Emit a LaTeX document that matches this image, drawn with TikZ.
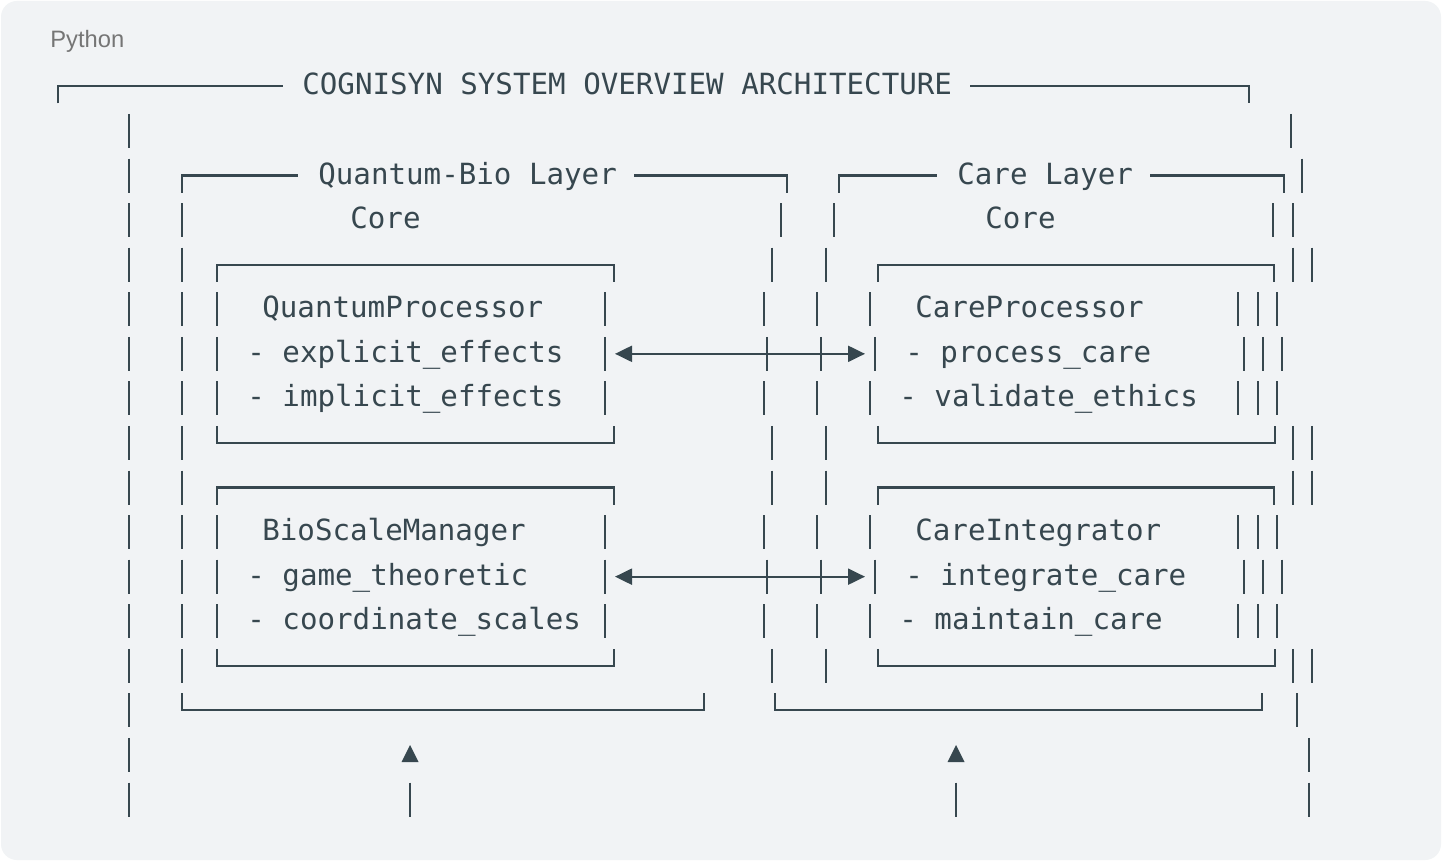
\documentclass[tikz,border=0pt]{standalone}
\usepackage{fontspec}
\setmainfont{Liberation Sans}
\setmonofont{DejaVu Sans Mono}
\usetikzlibrary{arrows.meta}

\definecolor{ink}{RGB}{55,71,79}
\definecolor{codebg}{RGB}{241,243,245}
\definecolor{tagcol}{RGB}{117,117,117}

\begin{document}
\begin{tikzpicture}[
    x=0.02cm, y=-0.02cm,
    declare function={ry(\r)=86.4+44.57*\r;},
    code/.style={anchor=base west, inner sep=0pt, text=ink, font=\ttfamily\fontsize{16.6}{20}\selectfont},
    tag/.style={anchor=base west, inner sep=0pt, text=tagcol, font=\fontsize{13.5}{16}\selectfont},
    rule/.style={draw=ink, line width=1.2pt},
    arrow/.style={rule, >={Triangle[length=0.34cm,width=0.32cm]}, <->},
]

% Frame
\path[use as bounding box, fill=white] (0,0) rectangle (1442,861);
\fill[codebg, rounded corners=0.32cm] (1,1) rectangle (1441,860);
\node[tag] (lang) at (50,48) {Python};

% Titles
\node[code] (title) at (302,{ry(0)+8.5}) {COGNISYN SYSTEM OVERVIEW ARCHITECTURE};
\node[code] (qblayer) at (318,{ry(2)+8.5}) {Quantum-Bio Layer};
\node[code] (carelayer) at (957,{ry(2)+8.5}) {Care Layer};
\node[code] (qbcore) at (350,{ry(3)+8.5}) {Core};
\node[code] (carecore) at (985,{ry(3)+8.5}) {Core};

% Quantum-Bio nodes
\node[code] (qproc) at (262,{ry(5)+8.5}) {QuantumProcessor};
\node[code] (qproc1) at (247,{ry(6)+8.5}) {- explicit\_effects};
\node[code] (qproc2) at (247,{ry(7)+8.5}) {- implicit\_effects};
\node[code] (bsm) at (262,{ry(10)+8.5}) {BioScaleManager};
\node[code] (bsm1) at (247,{ry(11)+8.5}) {- game\_theoretic};
\node[code] (bsm2) at (247,{ry(12)+8.5}) {- coordinate\_scales};

% Care nodes
\node[code] (cproc) at (915,{ry(5)+8.5}) {CareProcessor};
\node[code] (cproc1) at (905,{ry(6)+8.5}) {- process\_care};
\node[code] (cproc2) at (899,{ry(7)+8.5}) {- validate\_ethics};
\node[code] (cint) at (915,{ry(10)+8.5}) {CareIntegrator};
\node[code] (cint1) at (905,{ry(11)+8.5}) {- integrate\_care};
\node[code] (cint2) at (899,{ry(12)+8.5}) {- maintain\_care};

% Corners and rules
\draw[rule] (58,{ry(0)+17}) -- (58,{ry(0)}) -- (283,{ry(0)});
\draw[rule] (970,{ry(0)}) -- (1249,{ry(0)}) -- (1249,{ry(0)+17});
\draw[rule] (182,{ry(2)+17}) -- (182,{ry(2)}) -- (298,{ry(2)});
\draw[rule] (634,{ry(2)}) -- (787,{ry(2)}) -- (787,{ry(2)+17});
\draw[rule] (839,{ry(2)+17}) -- (839,{ry(2)}) -- (937,{ry(2)});
\draw[rule] (1150,{ry(2)}) -- (1284,{ry(2)}) -- (1284,{ry(2)+17});
\foreach \r in {4,9} {
  \draw[rule] (217,{ry(\r)+17}) -- (217,{ry(\r)}) -- (614,{ry(\r)}) -- (614,{ry(\r)+17});
  \draw[rule] (878,{ry(\r)+17}) -- (878,{ry(\r)}) -- (1274,{ry(\r)}) -- (1274,{ry(\r)+17});
}
\foreach \r in {8,13} {
  \draw[rule] (217,{ry(\r)-17}) -- (217,{ry(\r)}) -- (614,{ry(\r)}) -- (614,{ry(\r)-17});
  \draw[rule] (878,{ry(\r)-17}) -- (878,{ry(\r)}) -- (1275,{ry(\r)}) -- (1275,{ry(\r)-17});
}
\draw[rule] (182,{ry(14)-17}) -- (182,{ry(14)}) -- (704,{ry(14)}) -- (704,{ry(14)-17});
\draw[rule] (775,{ry(14)-17}) -- (775,{ry(14)}) -- (1262,{ry(14)}) -- (1262,{ry(14)-17});

% Vertical bars
\foreach \r in {1,...,16}
  \draw[rule] (129,{ry(\r)-17}) -- (129,{ry(\r)+17});
\foreach \r in {3,...,13}
  \draw[rule] (182,{ry(\r)-17}) -- (182,{ry(\r)+17});
\foreach \x/\r in {217/5,217/6,217/7,217/10,217/11,217/12,
                   605/5,605/6,605/7,605/10,605/11,605/12,
                   781/3,772/4,764/5,767/6,764/7,772/8,772/9,764/10,767/11,764/12,772/13,
                   834/3,826/4,817/5,821/6,817/7,826/8,826/9,817/10,821/11,817/12,826/13,
                   870/5,875/6,870/7,870/10,875/11,870/12,
                   1238/5,1258/5,1277/5,1244/6,1263/6,1282/6,1238/7,1258/7,1277/7,
                   1238/10,1258/10,1277/10,1244/11,1263/11,1282/11,1238/12,1258/12,1277/12,
                   1291/1,1302/2,1273/3,1293/3,1293/4,1312/4,1293/8,1312/8,
                   1293/9,1312/9,1293/13,1312/13,1297/14,1309/15,1309/16,
                   410/16,956/16}
  \draw[rule] (\x,{ry(\r)-17}) -- (\x,{ry(\r)+17});

% Relations
\coordinate (qproc-out) at (615,{ry(6)});
\coordinate (cproc-in) at (865,{ry(6)});
\coordinate (bsm-out) at (615,{ry(11)});
\coordinate (cint-in) at (865,{ry(11)});
\draw[arrow] (qproc-out) -- (cproc-in);
\draw[arrow] (bsm-out) -- (cint-in);

% Up marks
\fill[ink] (410,745) -- (418.5,762) -- (401.5,762) -- cycle;
\fill[ink] (956,745) -- (964.5,762) -- (947.5,762) -- cycle;

\end{tikzpicture}
\end{document}
